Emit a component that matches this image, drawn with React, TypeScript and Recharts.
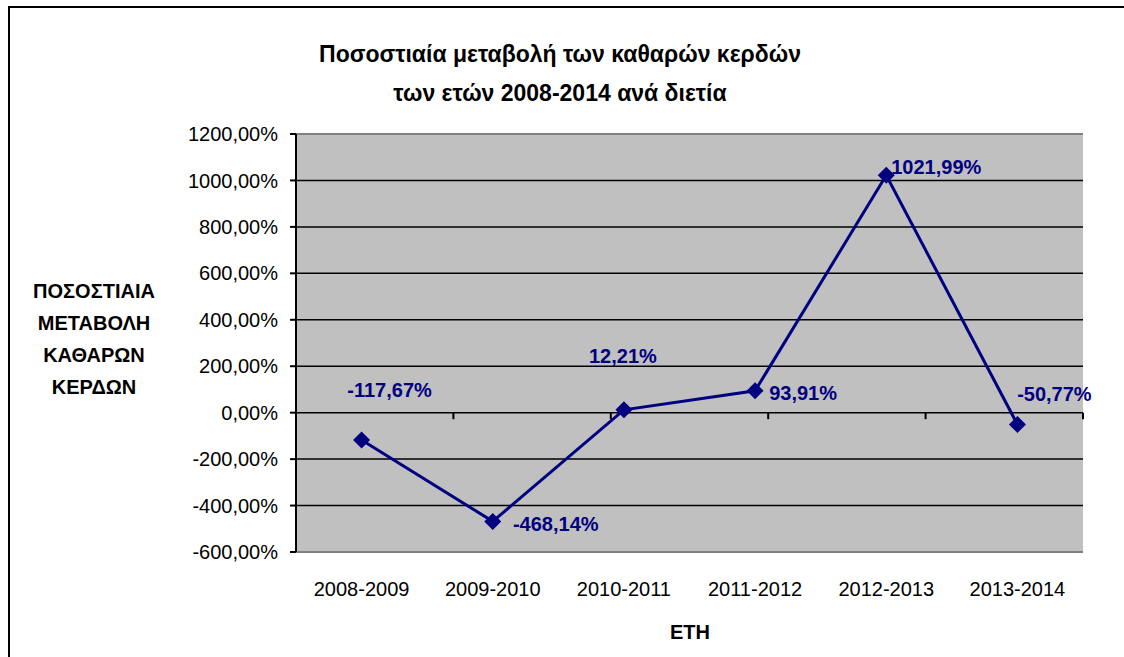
import React from "react";
import {CartesianGrid, LabelList, Line, LineChart, ReferenceLine, XAxis, YAxis} from "recharts";

const periods = ["2008-2009", "2009-2010", "2010-2011", "2011-2012", "2012-2013", "2013-2014"];
const changes = [-117.67, -468.14, 12.21, 93.91, 1021.99, -50.77];
const yTicks = [-600, -400, -200, 0, 200, 400, 600, 800, 1000, 1200];
const boundaryTicks = [1, 2, 3, 4, 5, 6];

// where each data label sits relative to its point (px)
const labelOffsets = [
    {dx: 28, dy: -50},
    {dx: 63, dy: 3},
    {dx: -1, dy: -54},
    {dx: 48, dy: 2},
    {dx: 50, dy: -8},
    {dx: 37, dy: -30},
];

const data = periods.map((p, i) => ({name: p, value: changes[i]}));

const NAVY = "#000080";
const FONT = "'Liberation Sans', Arial, sans-serif";

const pct = (v: number) => v.toFixed(2).replace(".", ",") + "%";

const Diamond = (props: any) => {
    const {cx, cy} = props;
    if (cx == null || cy == null) return null;
    const r = 8.5;
    return <path d={`M${cx},${cy - r} L${cx + r},${cy} L${cx},${cy + r} L${cx - r},${cy} Z`} fill={NAVY}/>;
};

const renderLabel = (props: any) => {
    const {x, y, index, value} = props;
    const off = labelOffsets[index] || {dx: 0, dy: -20};
    return (
        <text x={x + off.dx} y={y + off.dy} textAnchor="middle" dominantBaseline="central"
              fill={NAVY} fontSize={20} fontWeight="bold" fontFamily={FONT}>
            {pct(value)}
        </text>
    );
};

export default function App() {
    return (
        <div style={{position: "absolute", left: 0, top: 0, width: 1124, height: 657, background: "#fff", overflow: "hidden", fontFamily: FONT}}>
            <div style={{position: "absolute", left: 8, top: 6, width: 1200, height: 700, borderTop: "2px solid #000", borderLeft: "2px solid #000"}}/>
            <div style={{position: "absolute", left: 210, top: 35, width: 700, textAlign: "center", fontWeight: "bold", fontSize: 23, lineHeight: "39px", color: "#000"}}>
                Ποσοστιαία μεταβολή των καθαρών κερδών<br/>των ετών 2008-2014 ανά διετία
            </div>
            <div style={{position: "absolute", left: 14, top: 275, width: 160, textAlign: "center", fontWeight: "bold", fontSize: 20, lineHeight: "32px", color: "#000"}}>
                ΠΟΣΟΣΤΙΑΙΑ<br/>ΜΕΤΑΒΟΛΗ<br/>ΚΑΘΑΡΩΝ<br/>ΚΕΡΔΩΝ
            </div>
            <div style={{position: "absolute", left: 590, top: 621, width: 200, textAlign: "center", fontWeight: "bold", fontSize: 20, color: "#000"}}>
                ΕΤΗ
            </div>
            <div style={{position: "absolute", left: 0, top: 0}}>
                <LineChart width={1124} height={657} data={data}
                           margin={{top: 134, right: 41, bottom: 65, left: 196}}>
                    <CartesianGrid vertical={false} fill="#C0C0C0" stroke="#000" strokeWidth={1.5}
                                   horizontalValues={yTicks}/>
                    <XAxis dataKey="name" scale="band" height={40} axisLine={false} tickLine={false} tickSize={0} tickMargin={30}
                           interval={0} tick={{fill: "#000", fontSize: 20, fontFamily: FONT}}/>
                    <XAxis xAxisId="num" type="number" domain={[0, 6]} hide/>
                    <YAxis width={100} domain={[-600, 1200]} ticks={yTicks} interval={0}
                           tickFormatter={pct} axisLine={{stroke: "#000", strokeWidth: 2}}
                           tickLine={{stroke: "#000", strokeWidth: 2}} tickSize={6} tickMargin={12}
                           tick={{fill: "#000", fontSize: 20, fontFamily: FONT}}/>
                    <ReferenceLine y={1200} stroke="#808080" strokeWidth={2}/>
                    <ReferenceLine y={-600} stroke="#808080" strokeWidth={2}/>
                    <ReferenceLine xAxisId="num" x={6} stroke="#808080" strokeWidth={2}/>
                    {boundaryTicks.map(k => (
                        <ReferenceLine key={k} xAxisId="num" stroke="#000" strokeWidth={2}
                                       segment={[{x: k, y: 0}, {x: k, y: -28}]}/>
                    ))}
                    <Line type="linear" dataKey="value" stroke={NAVY} strokeWidth={3}
                          dot={<Diamond/>} activeDot={false} isAnimationActive={false}>
                        <LabelList dataKey="value" content={renderLabel}/>
                    </Line>
                </LineChart>
            </div>
        </div>
    );
}
